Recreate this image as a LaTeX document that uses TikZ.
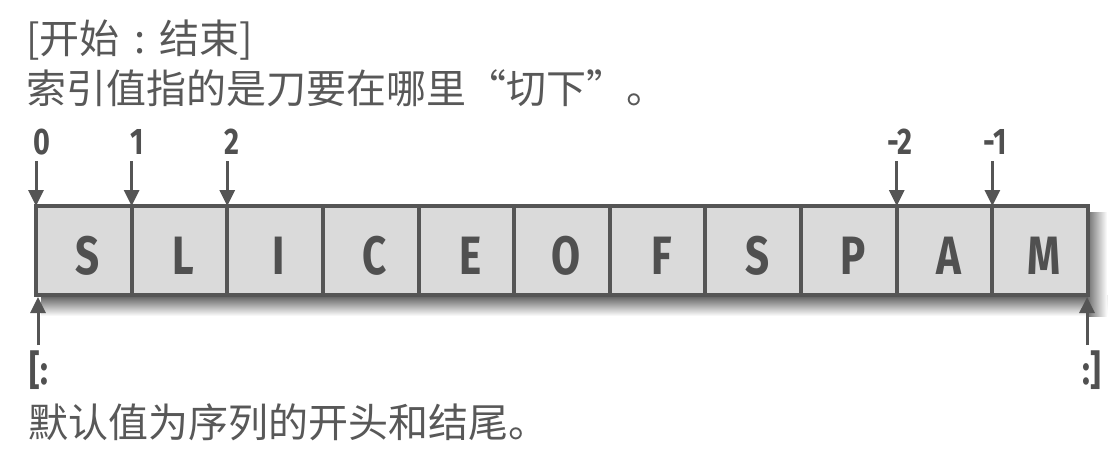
\documentclass[tikz,border=0pt]{standalone}
\usepackage{fontspec}
\usepackage{graphicx}
\usetikzlibrary{arrows.meta,calc}
\newfontfamily\cjk{Noto Sans CJK SC}
\newfontfamily\lat{Fira Sans}[UprightFont=* Bold]
\definecolor{ink}{HTML}{505050}
\definecolor{cnink}{HTML}{585858}
\definecolor{boxline}{HTML}{555555}
\definecolor{cellfill}{HTML}{DADADA}
\newcommand{\cn}[1]{{\cjk\fontsize{40}{46}\selectfont #1}}
\newcommand{\myLQ}{\makebox[1em][r]{“}}
\newcommand{\myRQ}{\makebox[1em][l]{”}}
\newcommand{\myCC}{\makebox[1em][c]{:}}
\newcommand{\lt}[1]{\scalebox{0.78}[1]{\lat\fontsize{54}{60}\selectfont #1}}
\newcommand{\dg}[1]{\scalebox{0.78}[1]{\lat\fontsize{37}{42}\selectfont #1}}
\newcommand{\bk}[1]{\scalebox{0.8}[1]{\lat\fontsize{41}{46}\selectfont #1}}
\begin{document}
\begin{tikzpicture}[x=1pt,y=1pt,
  cell/.style={draw=boxline,line width=4pt,fill=cellfill,minimum width=95.64pt,
    minimum height=89pt,inner sep=0pt,outer sep=0pt},
  letter/.style={text=ink,inner sep=0pt},
  idx/.style={text=ink,inner sep=0pt,anchor=base},
  txt/.style={text=cnink,inner sep=0pt,anchor=west},
  arr/.style={draw=boxline,line width=3pt,-{Triangle[width=15pt,length=16pt]}}]
\useasboundingbox (0,0) rectangle (1120,-467);
% cells
\foreach \L [count=\i from 0] in {S,L,I,C,E,O,F,S,P,A,M}{
  \node[cell] (c\i) at ({36+95.64*(\i+0.5)},-250.5) {};
}
% shadow
\fill[top color=black!65,bottom color=white] ($(c0.south west)+(5,0)$) rectangle ($(c10.south east)+(19,-21)$);
\fill[left color=black!55,right color=white] ($(c10.north east)+(0,-6)$) rectangle ($(c10.south east)+(19,-21)$);
\foreach \L [count=\i from 0] in {S,L,I,C,E,O,F,S,P,A,M}{
  \node[cell] at (c\i) {};
  \node[letter] (t\i) at ($(c\i)+(4,-5)$) {\lt{\L}};
}
% top texts
\node[txt] (h1) at (26,-40) {\cn{[开始\myCC 结束]}};
\node[txt] (h2) at (26,-88) {\cn{索引值指的是刀要在哪里\myLQ 切下\myRQ 。}};
% index labels and arrows
\foreach \n/\k/\dx in {0/0/6,1/1/6,2/2/5,-2/9/3,-1/10/3}{
  \coordinate (s\k) at ($(c\k.north west)+(0,45)$);
  \node[idx] (l\k) at ($(c\k.north west)+(\dx,52)$) {\dg{\n}};
  \draw[arr] (s\k) -- (c\k.north west);
}
% bottom arrows
\coordinate (b0) at ($(c0.south west)+(2,-50)$);
\coordinate (b10) at ($(c10.south east)+(-1,-50)$);
\draw[arr] (b0) -- ($(c0.south west)+(2,-2)$);
\draw[arr] (b10) -- ($(c10.south east)+(-1,-2)$);
\node[idx] (bl) at ($(c0.south west)+(3,-89)$) {\bk{[:}};
\node[idx] (br) at ($(c10.south east)+(4,-89)$) {\bk{:]}};
\node[txt] (f1) at (28,-422) {\cn{默认值为序列的开头和结尾。}};
\end{tikzpicture}
\end{document}
